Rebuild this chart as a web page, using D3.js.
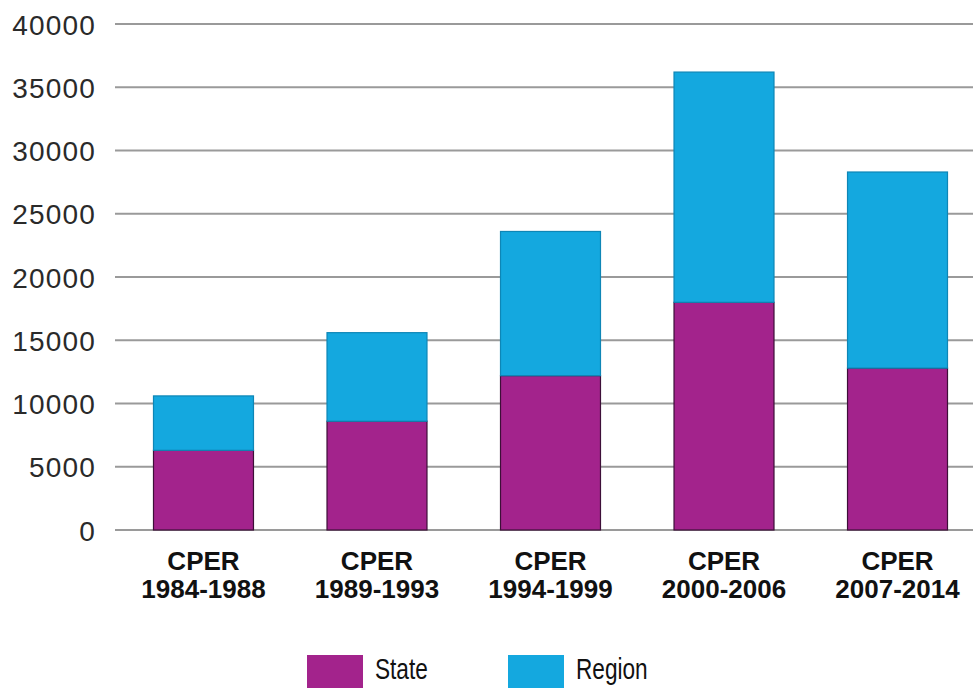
<!DOCTYPE html>
<html>
<head>
<meta charset="utf-8">
<script src="https://cdn.jsdelivr.net/npm/d3@7"></script>
<style>
  html, body { margin: 0; padding: 0; background: #fff; }
  svg { display: block; }
</style>
</head>
<body>
<svg id="chart" width="973" height="688"></svg>
<script>
const categories = ["1984-1988", "1989-1993", "1994-1999", "2000-2006", "2007-2014"];
const categoryPrefix = "CPER";
const stateValues  = [6300, 8600, 12200, 18000, 12800];
const regionValues = [4300, 7000, 11400, 18200, 15500];
const seriesNames = ["State", "Region"];
const yTicks = [0, 5000, 10000, 15000, 20000, 25000, 30000, 35000, 40000];

const colors = { State: "#a3238c", Region: "#14a8df" };
const strokes = { State: "#3d0f38", Region: "#0e86b6" };

const svg = d3.select("#chart");
const W = 973;

const x = d3.scaleBand()
  .domain(categories)
  .range([115, 986])
  .paddingInner(0.418)
  .paddingOuter(0.219);

const y = d3.scaleLinear()
  .domain([0, 40000])
  .range([530, 24]);

// gridlines
svg.append("g")
  .selectAll("line")
  .data(yTicks)
  .join("line")
  .attr("x1", 115)
  .attr("x2", W)
  .attr("y1", d => y(d))
  .attr("y2", d => y(d))
  .attr("stroke", "#9a9a9a")
  .attr("stroke-width", 2);

// y axis labels
const yAxis = d3.axisLeft(y).tickValues(yTicks).tickSize(0).tickPadding(0).tickFormat(d3.format("d"));
const yg = svg.append("g").attr("transform", "translate(96,0)").call(yAxis);
yg.select(".domain").remove();
yg.selectAll("text")
  .attr("font-family", "'Liberation Sans', Arial, sans-serif")
  .attr("font-size", 28)
  .attr("letter-spacing", "1.2px")
  .attr("fill", "#2a2a2a")
  .attr("dy", "0.36em");

// stacked data
const rows = categories.map((c, i) => ({ cat: c, State: stateValues[i], Region: regionValues[i] }));
const stack = d3.stack().keys(seriesNames)(rows);

const gBars = svg.append("g");
stack.forEach(layer => {
  gBars.append("g")
    .selectAll("rect")
    .data(layer)
    .join("rect")
    .attr("x", d => x(d.data.cat) + 0.5)
    .attr("width", x.bandwidth() - 1)
    .attr("y", d => y(d[1]))
    .attr("height", d => y(d[0]) - y(d[1]))
    .attr("fill", colors[layer.key])
    .attr("stroke", strokes[layer.key])
    .attr("stroke-width", 1.2);
});

// x labels
const xg = svg.append("g");
categories.forEach(c => {
  const cx = x(c) + x.bandwidth() / 2;
  const t = xg.append("text")
    .attr("text-anchor", "middle")
    .attr("font-family", "'Liberation Sans', Arial, sans-serif")
    .attr("font-weight", "bold")
    .attr("font-size", 26)
    .attr("fill", "#111");
  t.append("tspan").attr("x", cx).attr("y", 570).text(categoryPrefix);
  t.append("tspan").attr("x", cx).attr("y", 598).text(c);
});

// legend
const legendX = [307, 508];
const lg = svg.append("g");
seriesNames.forEach((s, i) => {
  lg.append("rect")
    .attr("x", legendX[i])
    .attr("y", 655)
    .attr("width", 56)
    .attr("height", 33)
    .attr("fill", colors[s]);
  lg.append("text")
    .attr("transform", `translate(${legendX[i] + 68},679) scale(0.78,1)`)
    .attr("font-family", "'Liberation Sans', Arial, sans-serif")
    .attr("font-size", 29)
    .attr("fill", "#111")
    .text(s);
});
</script>
</body>
</html>
